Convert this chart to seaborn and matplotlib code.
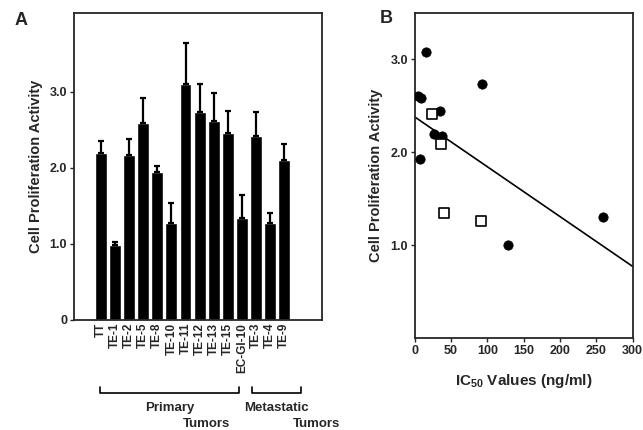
import matplotlib
matplotlib.use("Agg")
import matplotlib.pyplot as plt
import matplotlib.transforms as mtransforms
import numpy as np
import pandas as pd
import seaborn as sns

# panel A: cell proliferation per cell line
cell_lines = ["TT", "TE-1", "TE-2", "TE-5", "TE-8", "TE-10", "TE-11", "TE-12",
              "TE-13", "TE-15", "EC-GI-10", "TE-3", "TE-4", "TE-9"]
activity = [2.20, 0.98, 2.17, 2.59, 1.94, 1.28, 3.10, 2.74, 2.62, 2.46,
            1.34, 2.42, 1.27, 2.11]
activity_sd = [0.15, 0.04, 0.21, 0.33, 0.09, 0.26, 0.55, 0.36, 0.36, 0.29,
               0.30, 0.32, 0.14, 0.21]

# panel B: IC50 vs proliferation
primary_ic50 = [15, 5, 9, 35, 27, 37, 7, 93, 128, 259]
primary_act = [3.08, 2.61, 2.58, 2.44, 2.20, 2.17, 1.93, 2.73, 1.00, 1.30]
meta_ic50 = [24, 36, 40, 91]
meta_act = [2.41, 2.09, 1.35, 1.26]
fit_x = [0, 300]
fit_y = [2.38, 0.77]

sns.set_style("ticks")
plt.rcParams["font.family"] = ["Liberation Sans", "DejaVu Sans"]
plt.rcParams["font.weight"] = "bold"
plt.rcParams["axes.labelweight"] = "bold"
plt.rcParams["mathtext.fontset"] = "custom"
plt.rcParams["mathtext.rm"] = "Liberation Sans:bold"
plt.rcParams["mathtext.bf"] = "Liberation Sans:bold"

fig = plt.figure(figsize=(6.43, 4.30), dpi=100)
axA = fig.add_axes([0.115, 0.256, 0.386, 0.714])
axB = fig.add_axes([0.645, 0.214, 0.339, 0.756])

# ---- panel A
dfA = pd.DataFrame({"line": cell_lines, "act": activity})
sns.barplot(data=dfA, x="line", y="act", color="black", width=0.85,
            errorbar=None, ax=axA, saturation=1)
xs = np.arange(len(cell_lines))
axA.errorbar(xs, activity, yerr=[np.zeros(len(xs)), activity_sd], fmt="none",
             ecolor="black", elinewidth=1.6, capsize=2.0, capthick=1.6)
axA.set_xlim(-1.92, 15.7)
axA.set_ylim(0, 4.04)
axA.set_yticks([0, 1, 2, 3])
axA.set_yticklabels(["0", "1.0", "2.0", "3.0"])
axA.tick_params(axis="y", labelsize=9, length=3, width=1, pad=2)
axA.tick_params(axis="x", labelsize=8.5, length=0, pad=2)
for lab in axA.get_xticklabels():
    lab.set_rotation(90)
    lab.set_fontweight("bold")
axA.set_xlabel("")
axA.set_ylabel("Cell Proliferation Activity", fontsize=10.5, labelpad=5)
for s in axA.spines.values():
    s.set_linewidth(1.3)

trans = mtransforms.blended_transform_factory(axA.transData, axA.transAxes)
for x0, x1 in [(-0.05, 9.8), (10.7, 14.2)]:
    axA.plot([x0, x0, x1, x1], [-0.218, -0.238, -0.238, -0.218], color="black",
             lw=1.2, transform=trans, clip_on=False)
axA.text(4.9, -0.287, "Primary", transform=trans, ha="center", va="center",
         fontsize=9.5, fontweight="bold")
axA.text(7.5, -0.339, "Tumors", transform=trans, ha="center", va="center",
         fontsize=9.5, fontweight="bold")
axA.text(12.44, -0.287, "Metastatic", transform=trans, ha="center", va="center",
         fontsize=9.5, fontweight="bold")
axA.text(15.3, -0.339, "Tumors", transform=trans, ha="center", va="center",
         fontsize=9.5, fontweight="bold")

# ---- panel B
sns.lineplot(x=fit_x, y=fit_y, color="black", lw=1.2, ax=axB)
sns.scatterplot(x=primary_ic50, y=primary_act, marker="o", s=45,
                color="black", edgecolor="black", ax=axB, zorder=3)
sns.scatterplot(x=meta_ic50, y=meta_act, marker="s", s=50, facecolor="white",
                edgecolor="black", linewidth=1.2, ax=axB, zorder=3)
axB.set_xlim(0, 300)
axB.set_ylim(0, 3.5)
axB.set_xticks(range(0, 301, 50))
axB.set_yticks([1, 2, 3])
axB.set_yticklabels(["1.0", "2.0", "3.0"])
axB.tick_params(labelsize=9, length=3, width=1, pad=2)
axB.set_xlabel(r"IC$_{50}$ Values (ng/ml)", fontsize=11, labelpad=11)
axB.set_ylabel("Cell Proliferation Activity", fontsize=10.5, labelpad=5)
for s in axB.spines.values():
    s.set_linewidth(1.3)

fig.text(0.022, 0.953, "A", fontsize=13, fontweight="bold", va="center")
fig.text(0.59, 0.958, "B", fontsize=13, fontweight="bold", va="center")

fig.savefig("out.png", dpi=100)
